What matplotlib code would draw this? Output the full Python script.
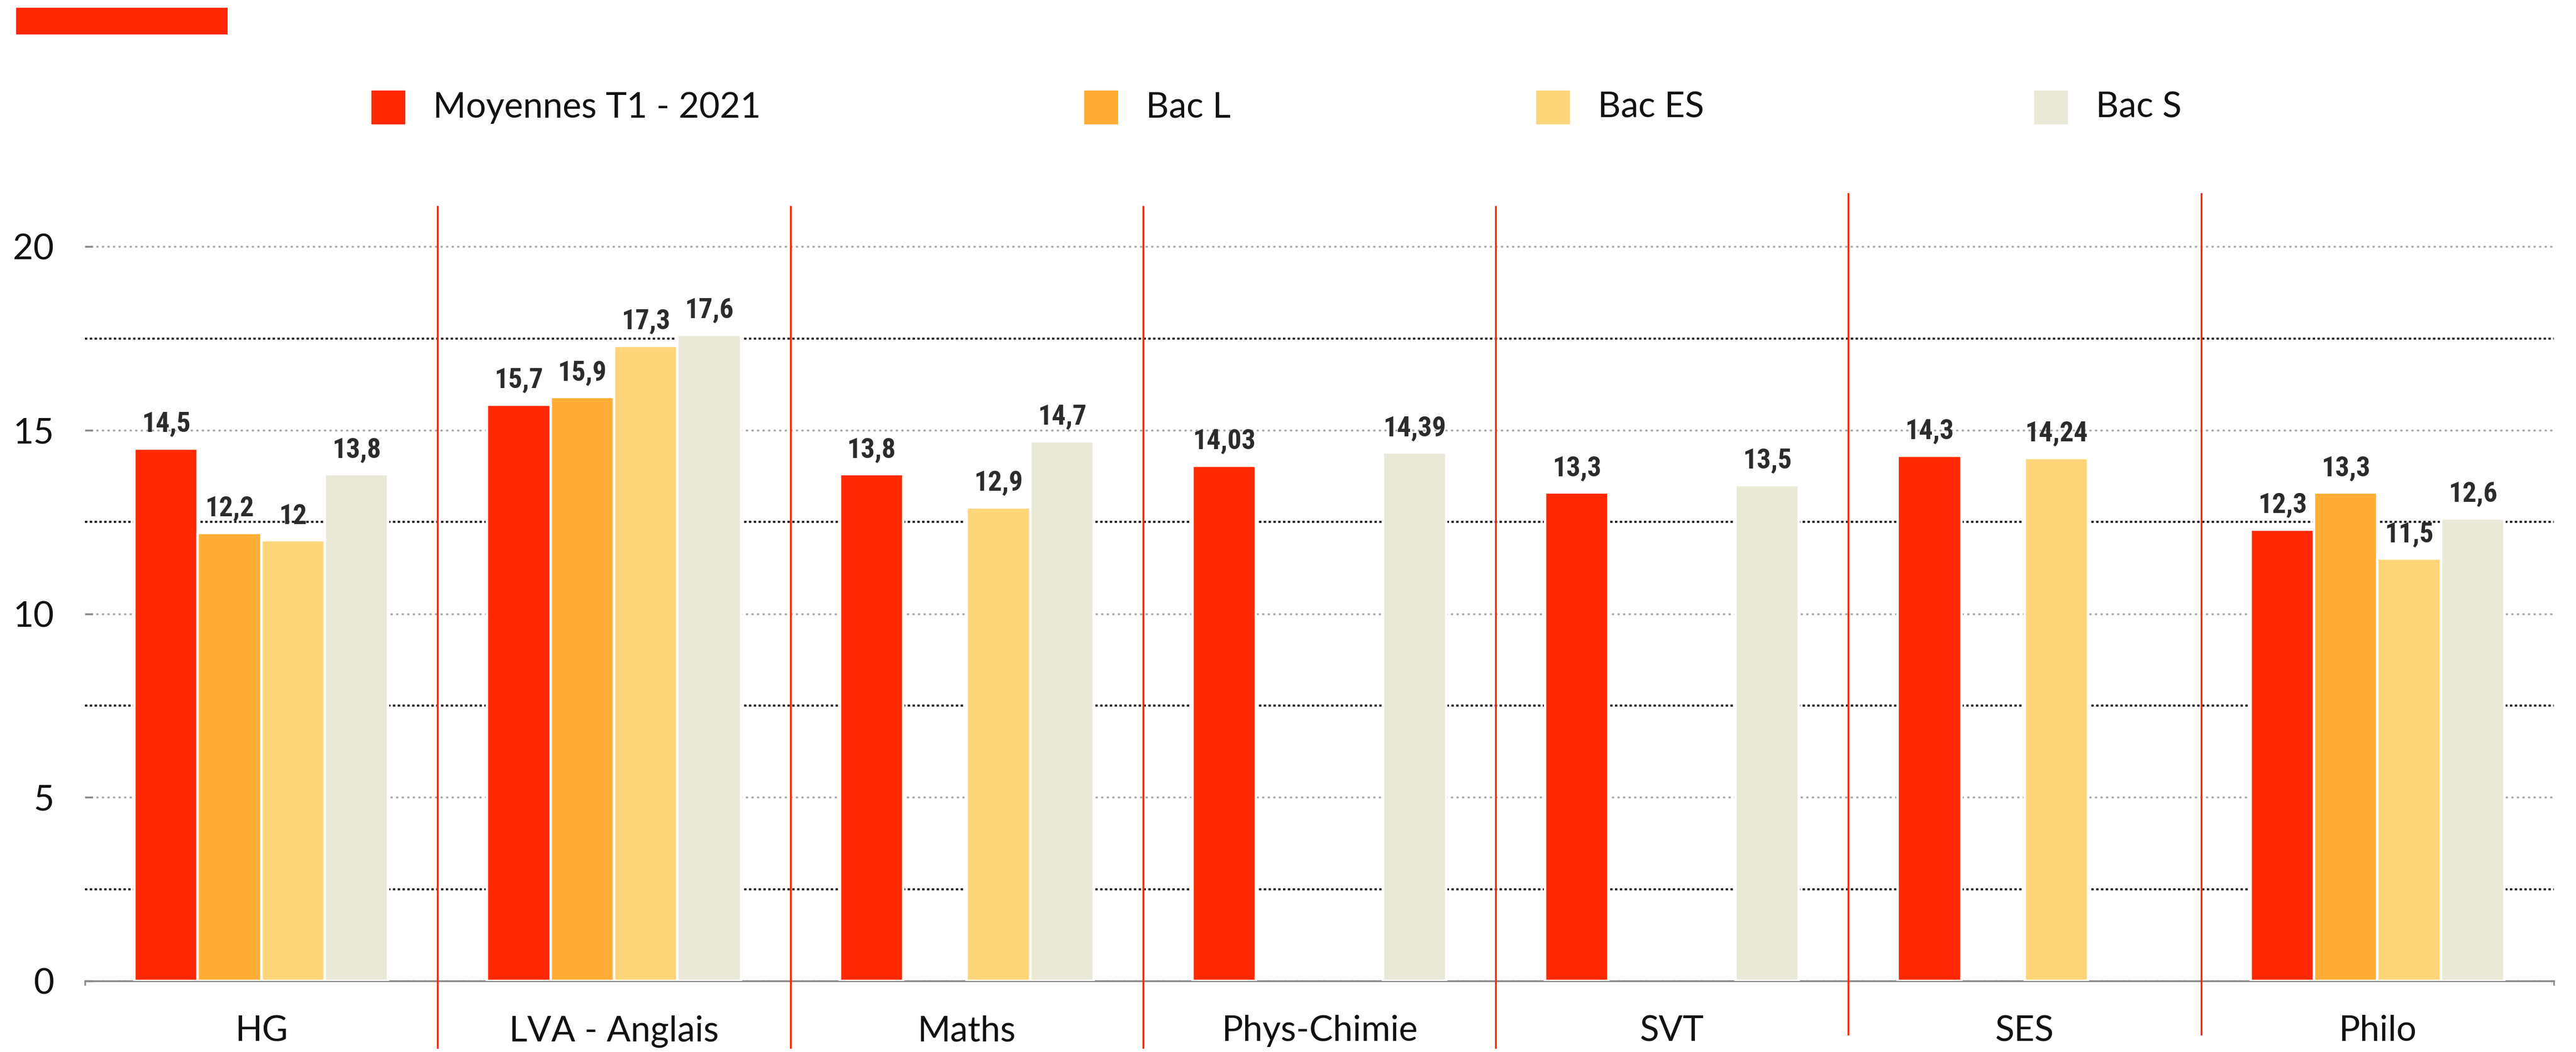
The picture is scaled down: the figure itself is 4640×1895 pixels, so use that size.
import numpy as np
import matplotlib
matplotlib.use('Agg')
import matplotlib.pyplot as plt
from matplotlib.patches import Rectangle
from matplotlib.ticker import FixedLocator

# data
categories = ['HG', 'LVA - Anglais', 'Maths', 'Phys-Chimie', 'SVT', 'SES', 'Philo']
series_names = ['Moyennes T1 - 2021', 'Bac L', 'Bac ES', 'Bac S']
moyennes = [14.5, 15.7, 13.8, 14.03, 13.3, 14.3, 12.3]
bac_l = [12.2, 15.9, None, None, None, None, 13.3]
bac_es = [12, 17.3, 12.9, None, None, 14.24, 11.5]
bac_s = [13.8, 17.6, 14.7, 14.39, 13.5, None, 12.6]
colors = ['#FF2800', '#FFAD36', '#FFD57A', '#EAE8D7']

W, H = 4640, 1895
fig = plt.figure(figsize=(W / 200, H / 200), dpi=200)
ax = fig.add_axes([153 / W, 1 - 1767 / H, (4600 - 153) / W, (1767 - 312) / H])

x = np.arange(len(categories))
bw = 0.18
all_series = [moyennes, bac_l, bac_es, bac_s]
for i, (vals, col) in enumerate(zip(all_series, colors)):
    off = (i - 1.5) * bw
    for xi, v in zip(x, vals):
        if v is None:
            continue
        ax.bar(xi + off, v, bw, color=col, edgecolor='white', linewidth=1.6, zorder=3)
        lab = '{:g}'.format(v).replace('.', ',')
        ax.text(xi + off, v + 0.3, lab, ha='center', va='bottom', fontsize=18,
                fontweight='semibold', fontstretch='condensed', color='#2b2b2b',
                family=['Roboto Condensed', 'DejaVu Sans'], zorder=4)

ax.set_xlim(-0.5, len(categories) - 0.5)
ax.set_ylim(0, 22)

# grid
ax.yaxis.set_major_locator(FixedLocator([0, 5, 10, 15, 20]))
ax.yaxis.set_minor_locator(FixedLocator([2.5, 7.5, 12.5, 17.5]))
ax.grid(which='major', axis='y', color='#a8a8a8', linestyle=(0, (1.2, 1.8)), linewidth=1.2)
ax.grid(which='minor', axis='y', color='#111111', linestyle=(0, (1.2, 1.2)), linewidth=1.3)
ax.set_axisbelow(True)

for s in ['top', 'right', 'left']:
    ax.spines[s].set_visible(False)
ax.spines['bottom'].set_color('#8a8a8a')
ax.spines['bottom'].set_linewidth(1.2)

ax.set_xticks(x)
ax.set_xticklabels(categories, fontsize=23, family='Lato', color='#111111')
ax.xaxis.set_minor_locator(FixedLocator(np.arange(len(categories) + 1) - 0.5))
ax.tick_params(axis='x', which='major', length=0, pad=22)
ax.tick_params(axis='x', which='minor', length=3, color='#8a8a8a', width=1)
ax.tick_params(axis='y', which='major', direction='in', length=5, color='#8a8a8a',
               width=1.2, pad=20, labelsize=23, labelcolor='#111111')
ax.tick_params(axis='y', which='minor', length=0)
for t in ax.get_yticklabels():
    t.set_family('Lato')

# red separators
for b in np.arange(1, len(categories)) - 0.5:
    if b < 4:
        y0, y1 = -1.81, 21.09
    else:
        y0, y1 = -1.45, 21.44
    ax.plot([b, b], [y0, y1], color='#FF2800', linewidth=1.2, clip_on=False, zorder=5)

# top red bar
fig.add_artist(Rectangle((29 / W, 1 - 62 / H), 381 / W, 48 / H, transform=fig.transFigure,
                         color='#FF2800', lw=0))

# legend
leg_x = [669, 1953, 2767, 3664]
for lx, name, col in zip(leg_x, series_names, colors):
    fig.add_artist(Rectangle((lx / W, 1 - 224 / H), 61 / W, 61 / H, transform=fig.transFigure,
                             color=col, lw=0))
    fig.text((lx + 111) / W, 1 - 194 / H, name, fontsize=23, family='Lato',
             color='#111111', va='center', ha='left')

fig.savefig('out.png', dpi=200, facecolor='white')
